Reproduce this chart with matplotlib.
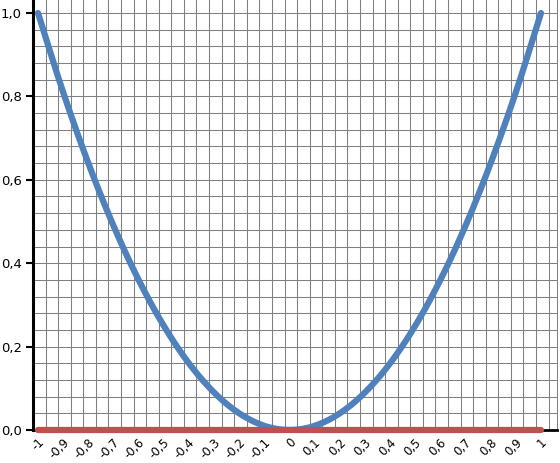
import numpy as np
import matplotlib.pyplot as plt
from matplotlib.transforms import ScaledTranslation

# values (x categories and y = curve)
x_vals = [-1, -0.9, -0.8, -0.7, -0.6, -0.5, -0.4, -0.3, -0.2, -0.1, 0,
          0.1, 0.2, 0.3, 0.4, 0.5, 0.6, 0.7, 0.8, 0.9, 1]
y_curve = [1.0, 0.81, 0.64, 0.49, 0.36, 0.25, 0.16, 0.09, 0.04, 0.01, 0.0,
           0.01, 0.04, 0.09, 0.16, 0.25, 0.36, 0.49, 0.64, 0.81, 1.0]
y_zero = [0.0] * len(x_vals)
x_labels = ['-1', '-0,9', '-0,8', '-0,7', '-0,6', '-0,5', '-0,4', '-0,3', '-0,2', '-0,1', '0',
            '0,1', '0,2', '0,3', '0,4', '0,5', '0,6', '0,7', '0,8', '0,9', '1']
y_ticks = [0.0, 0.2, 0.4, 0.6, 0.8, 1.0]
y_labels = ['0,0', '0,2', '0,4', '0,6', '0,8', '1,0']


def smooth(px, py, n=20):
    # Catmull-Rom through the points, like Excel's smoothed line
    P = np.column_stack([np.asarray(px, float), np.asarray(py, float)])
    P = np.vstack([2 * P[0] - P[1], P, 2 * P[-1] - P[-2]])
    out = []
    t = np.linspace(0, 1, n, endpoint=False)[:, None]
    for i in range(1, len(P) - 2):
        p0, p1, p2, p3 = P[i - 1], P[i], P[i + 1], P[i + 2]
        seg = 0.5 * ((2 * p1) + (-p0 + p2) * t + (2 * p0 - 5 * p1 + 4 * p2 - p3) * t ** 2
                     + (-p0 + 3 * p1 - 3 * p2 + p3) * t ** 3)
        out.append(seg)
    out.append(P[-2][None, :])
    out = np.vstack(out)
    return out[:, 0], out[:, 1]


fig = plt.figure(figsize=(5.6, 4.63), dpi=100)
ax = fig.add_axes([33 / 560, 33 / 463, 524 / 560, 430 / 463])

left = -1 - 5 / 251.5
right = 1 + 16 / 251.5
ax.set_xlim(left, right)
ax.set_ylim(0, 1 + 13 / 417)

# grid
for gx in np.arange(left, right, 0.05):
    ax.axvline(gx, color='#808080', lw=0.75, zorder=0)
for gy in np.arange(0.04, 1.03, 0.04):
    ax.axhline(gy, color='#808080', lw=0.75, zorder=0)

sx, sy = smooth(x_vals, y_curve)
ax.plot(sx, sy, color='#4F81BD', lw=4.5, solid_capstyle='round', zorder=3)
ax.plot(x_vals, y_zero, color='#C0504D', lw=4.5, solid_capstyle='round', zorder=3,
        clip_on=False)

ax.set_yticks(y_ticks)
ax.set_yticklabels(y_labels, fontsize=9.5)
ax.set_xticks(x_vals)
ax.set_xticklabels(x_labels, rotation=45, ha='right', va='center',
                   rotation_mode='anchor', fontsize=8.5)
ax.tick_params(axis='x', length=0, pad=7.5)
ax.tick_params(axis='y', length=5, width=1.5, direction='out', pad=3)
shift = ScaledTranslation(4 / 100, 0, fig.dpi_scale_trans)
for lab in ax.get_xticklabels():
    lab.set_transform(lab.get_transform() + shift)

ax.spines['top'].set_visible(False)
ax.spines['right'].set_color('#808080')
ax.spines['right'].set_linewidth(0.75)
ax.spines['left'].set_linewidth(2.2)
ax.spines['bottom'].set_linewidth(2)

fig.savefig('out.png', dpi=100)
